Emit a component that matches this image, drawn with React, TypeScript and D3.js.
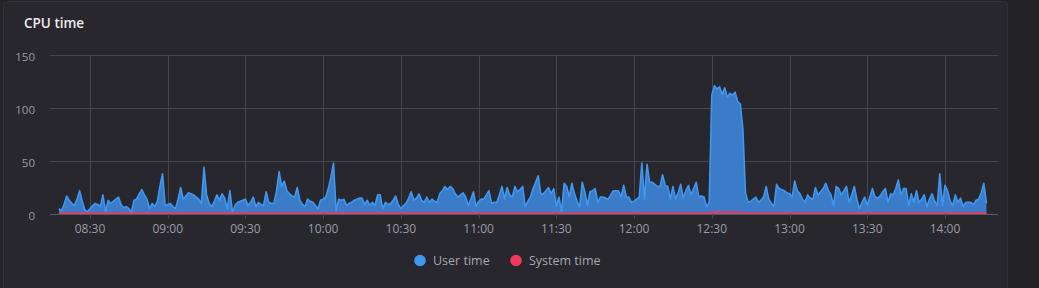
import React, { useRef, useEffect } from "react";
import * as d3 from "d3";

// Per-minute samples starting at 08:18
const startHour = 8;
const startMinute = 18;

const userTime = [
  5, 3, 9, 17, 13, 10, 8, 14, 22, 12,
  4, 2, 5, 8, 10, 9, 7, 18, 2, 13,
  10, 12, 14, 16, 9, 6, 7, 5, 2, 13,
  14, 19, 23, 18, 14, 5, 10, 7, 12, 26,
  38, 8, 9, 10, 7, 5, 14, 25, 14, 17,
  20, 19, 18, 16, 14, 10, 44, 18, 10, 7,
  12, 18, 13, 19, 15, 5, 22, 2, 8, 11,
  12, 13, 14, 8, 11, 16, 7, 11, 9, 8,
  21, 11, 10, 10, 22, 40, 26, 31, 22, 19,
  17, 16, 25, 13, 9, 7, 14, 12, 11, 8,
  5, 13, 14, 16, 24, 35, 48, 3, 14, 13,
  14, 8, 10, 11, 13, 14, 15, 15, 9, 13,
  8, 11, 8, 18, 18, 5, 11, 9, 10, 13,
  17, 9, 5, 8, 10, 15, 21, 13, 15, 19,
  13, 11, 16, 11, 14, 12, 11, 19, 22, 26,
  23, 26, 24, 19, 16, 18, 20, 16, 8, 14,
  21, 7, 12, 14, 14, 18, 22, 10, 11, 11,
  18, 26, 14, 25, 18, 16, 26, 21, 23, 26,
  7, 12, 16, 24, 30, 36, 19, 19, 22, 25,
  19, 24, 7, 16, 2, 29, 26, 16, 29, 19,
  12, 7, 30, 21, 8, 21, 22, 24, 11, 16,
  16, 15, 14, 18, 22, 22, 22, 16, 27, 16,
  16, 11, 12, 14, 16, 48, 14, 47, 30, 30,
  28, 26, 26, 37, 27, 26, 14, 26, 14, 20,
  28, 15, 22, 27, 18, 24, 30, 16, 17, 16,
  7, 11, 112, 121, 118, 120, 113, 119, 110, 114,
  112, 115, 106, 104, 80, 20, 11, 12, 14, 16,
  11, 13, 16, 26, 14, 10, 7, 28, 24, 23,
  22, 20, 19, 16, 31, 22, 19, 14, 11, 18,
  15, 14, 25, 18, 21, 24, 29, 22, 18, 8,
  26, 24, 18, 22, 26, 11, 18, 26, 14, 5,
  11, 16, 8, 16, 24, 16, 15, 17, 21, 24,
  11, 19, 18, 24, 32, 18, 24, 24, 8, 19,
  11, 22, 11, 14, 18, 7, 14, 19, 12, 8,
  38, 8, 27, 22, 12, 8, 18, 11, 15, 7,
  11, 11, 11, 9, 13, 14, 20, 29, 10,
];

const systemTime = [
  1, 1, 1, 1, 1, 1, 1, 1, 1, 1,
  1, 1, 1, 1, 1, 1, 1, 1, 1, 1,
  1, 1, 1, 1, 1, 1, 1, 1, 1, 1,
  1, 1, 1, 1, 1, 1, 1, 1, 1, 1,
  1, 1, 1, 1, 1, 1, 1, 1, 1, 1,
  1, 1, 1, 1, 1, 1, 1, 1, 1, 1,
  1, 1, 1, 1, 1, 1, 1, 1, 1, 1,
  1, 1, 1, 1, 1, 1, 1, 1, 1, 1,
  1, 1, 1, 1, 1, 1, 1, 1, 1, 1,
  1, 1, 1, 1, 1, 1, 1, 1, 1, 1,
  1, 1, 1, 1, 1, 1, 1, 1, 1, 1,
  1, 1, 1, 1, 1, 1, 1, 1, 1, 1,
  1, 1, 1, 1, 1, 1, 1, 1, 1, 1,
  1, 1, 1, 1, 1, 1, 1, 1, 1, 1,
  1, 1, 1, 1, 1, 1, 1, 1, 1, 1,
  1, 1, 1, 1, 1, 1, 1, 1, 1, 1,
  1, 1, 1, 1, 1, 1, 1, 1, 1, 1,
  1, 1, 1, 1, 1, 1, 1, 1, 1, 1,
  1, 1, 1, 1, 1, 1, 1, 1, 1, 1,
  1, 1, 1, 1, 1, 1, 1, 1, 1, 1,
  1, 1, 1, 1, 1, 1, 1, 1, 1, 1,
  1, 1, 1, 1, 1, 1, 1, 1, 1, 1,
  1, 1, 1, 1, 1, 1, 1, 1, 1, 1,
  1, 1, 1, 1, 1, 1, 1, 1, 1, 1,
  1, 1, 1, 1, 1, 1, 1, 1, 1, 1,
  1, 1.5, 2, 2, 2, 2, 2, 2, 2, 2,
  2, 2, 2, 2, 1.5, 1, 1, 1, 1, 1,
  1, 1, 1, 1, 1, 1, 1, 1, 1, 1,
  1, 1, 1, 1, 1, 1, 1, 1, 1, 1,
  1, 1, 1, 1, 1, 1, 1, 1, 1, 1,
  1, 1, 1, 1, 1, 1, 1, 1, 1, 1,
  1, 1, 1, 1, 1, 1, 1, 1, 1, 1,
  1, 1, 1, 1, 1, 1, 1, 1, 1, 1,
  1, 1, 1, 1, 1, 1, 1, 1, 1, 1,
  1, 1, 1, 1, 1, 1, 1, 1, 1, 1,
  1, 1, 1, 1, 1, 1, 1, 1, 1,
];

const yTicks = [0, 50, 100, 150];
const xTickLabels = ["08:30", "09:00", "09:30", "10:00", "10:30", "11:00", "11:30", "12:00", "12:30", "13:00", "13:30", "14:00"];
const seriesNames = ["User time", "System time"];
const seriesColors = ["#3f97f0", "#f2375c"];

const FONT = "'Open Sans', 'Noto Sans', sans-serif";

export default function App() {
  const ref = useRef<SVGSVGElement>(null);

  useEffect(() => {
    document.body.style.margin = "0";
    const svg = d3.select(ref.current);
    svg.selectAll("*").remove();

    const W = 1039, H = 288;
    const left = 50, right = 998, top = 55, bottom = 214;

    const day = (h: number, m: number, s = 0) => new Date(2024, 0, 1, h, m, s);
    const times = userTime.map((_, i) => day(startHour, startMinute + i));

    const x = d3.scaleTime()
      .domain([day(8, 14, 34), day(14, 20, 28)])
      .range([left, right]);
    const y = d3.scaleLinear().domain([0, 150]).range([bottom, top]);

    svg.append("rect").attr("width", W).attr("height", H).attr("fill", "#232328");
    svg.append("rect")
      .attr("x", 3.5).attr("y", 1.5).attr("width", 1004).attr("height", 320)
      .attr("rx", 4).attr("fill", "#27272d").attr("stroke", "#313137");

    svg.append("text")
      .attr("x", 24).attr("y", 28)
      .attr("fill", "#ececef")
      .attr("font-family", FONT).attr("font-size", 13.5).attr("font-weight", 600)
      .text("CPU time");

    const gridColor = "#46464d";
    svg.append("g").selectAll("line").data(yTicks).join("line")
      .attr("x1", left).attr("x2", right)
      .attr("y1", (d) => Math.round(y(d)) + 0.5).attr("y2", (d) => Math.round(y(d)) + 0.5)
      .attr("stroke", (d) => (d === 0 ? "#5a5a62" : gridColor)).attr("stroke-width", 1);

    const fmt = d3.timeFormat("%H:%M");
    const xTicks = x.ticks(d3.timeMinute.every(30)!).filter((t) => xTickLabels.includes(fmt(t)));
    svg.append("g").selectAll("line").data(xTicks).join("line")
      .attr("x1", (d) => Math.round(x(d)) + 0.5).attr("x2", (d) => Math.round(x(d)) + 0.5)
      .attr("y1", top).attr("y2", bottom + 5)
      .attr("stroke", gridColor).attr("stroke-width", 1);

    svg.append("g").selectAll("text").data(yTicks).join("text")
      .attr("x", 35).attr("y", (d) => y(d) + 6)
      .attr("text-anchor", "end")
      .attr("fill", "#9c9ca4").attr("font-family", FONT).attr("font-size", 11.5)
      .text((d) => String(d));

    svg.append("g").selectAll("text").data(xTicks).join("text")
      .attr("x", (d) => x(d)).attr("y", 233)
      .attr("text-anchor", "middle")
      .attr("fill", "#9c9ca4").attr("font-family", FONT).attr("font-size", 12)
      .text((d) => fmt(d));

    const userArea = d3.area<number>()
      .x((_, i) => x(times[i]))
      .y0(y(0)).y1((d) => y(d))
      .curve(d3.curveLinear);
    const userLine = d3.line<number>()
      .x((_, i) => x(times[i]))
      .y((d) => y(d))
      .curve(d3.curveLinear);
    svg.append("path").datum(userTime).attr("d", userArea).attr("fill", "#3b7cc8");
    svg.append("path").datum(userTime).attr("d", userLine)
      .attr("fill", "none").attr("stroke", seriesColors[0]).attr("stroke-width", 1.6)
      .attr("stroke-linejoin", "round");

    const sysArea = d3.area<number>()
      .x((_, i) => x(times[i]))
      .y0(y(0)).y1((d) => y(d));
    const sysLine = d3.line<number>()
      .x((_, i) => x(times[i]))
      .y((d) => y(d));
    svg.append("path").datum(systemTime).attr("d", sysArea).attr("fill", seriesColors[1]).attr("fill-opacity", 0.6);
    svg.append("path").datum(systemTime).attr("d", sysLine)
      .attr("fill", "none").attr("stroke", seriesColors[1]).attr("stroke-width", 1.4);

    const legendX = [420, 516];
    const lg = svg.append("g");
    seriesNames.forEach((name, i) => {
      lg.append("circle").attr("cx", legendX[i]).attr("cy", 260.5).attr("r", 5.8).attr("fill", seriesColors[i]);
      lg.append("text")
        .attr("x", legendX[i] + 13).attr("y", 265)
        .attr("fill", "#a6a6ae").attr("font-family", FONT).attr("font-size", 12.5)
        .text(name);
    });
  }, []);

  return <svg ref={ref} width={1039} height={288} style={{ display: "block" }} />;
}
